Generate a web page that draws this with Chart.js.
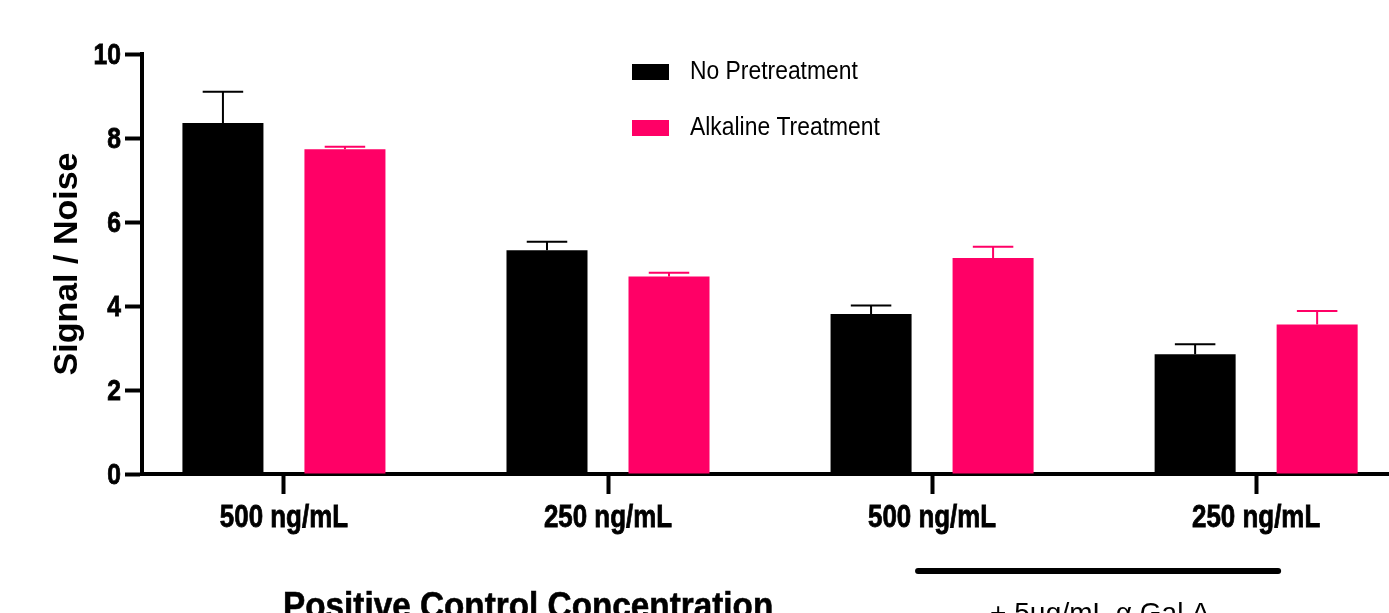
<!DOCTYPE html>
<html>
<head>
<meta charset="utf-8">
<script src="https://cdn.jsdelivr.net/npm/chart.js@4.4.0/dist/chart.umd.min.js"></script>
<style>
  html, body { margin: 0; padding: 0; background: #fff; }
</style>
</head>
<body>
<canvas id="snChart" width="1389" height="613"></canvas>
<script>
// valeurs
const categories = ['500 ng/mL', '250 ng/mL', '500 ng/mL', '250 ng/mL'];
const seriesNames = ['No Pretreatment', 'Alkaline Treatment'];
const noPretreatment = [8.36, 5.33, 3.81, 2.85];
const noPretreatmentErr = [0.74, 0.20, 0.20, 0.24];
const alkaline = [7.73, 4.70, 5.14, 3.56];
const alkalineErr = [0.06, 0.09, 0.27, 0.32];
const yTicks = [0, 2, 4, 6, 8, 10];
const yTitle = 'Signal / Noise';
const xTitle = 'Positive Control Concentration';
const bracketLabel = '+ 5µg/mL α Gal A';

const black = '#000000';
const pink = '#ff0066';
const fam = '"Liberation Sans", Arial, sans-serif';

// texte un peu condensé (style Prism), option contour pour épaissir
function narrowText(ctx, text, x, y, sx, align, heavy) {
    ctx.save();
    ctx.translate(x, y);
    ctx.scale(sx, 1);
    ctx.textAlign = align;
    ctx.fillText(text, 0, 0);
    if (heavy) {
        ctx.strokeStyle = ctx.fillStyle;
        ctx.lineWidth = heavy;
        ctx.strokeText(text, 0, 0);
    }
    ctx.restore();
}

// barres d'erreur (SD vers le haut seulement)
const errorBars = {
    id: 'errorBars',
    afterDatasetsDraw(chart) {
        const ctx = chart.ctx;
        const yScale = chart.scales.y;
        chart.data.datasets.forEach((ds, di) => {
            const meta = chart.getDatasetMeta(di);
            meta.data.forEach((bar, i) => {
                const top = yScale.getPixelForValue(ds.data[i].y + ds.errors[i]);
                ctx.save();
                ctx.strokeStyle = ds.backgroundColor;
                ctx.lineWidth = 2;
                ctx.beginPath();
                ctx.moveTo(bar.x, bar.y);
                ctx.lineTo(bar.x, top);
                ctx.moveTo(bar.x - bar.width / 4, top);
                ctx.lineTo(bar.x + bar.width / 4, top);
                ctx.stroke();
                ctx.restore();
            });
        });
    }
};

// libellés des axes, légende, annotations du bas
const extras = {
    id: 'extras',
    afterDraw(chart) {
        const ctx = chart.ctx;
        const xScale = chart.scales.x;
        const yScale = chart.scales.y;
        ctx.save();
        ctx.fillStyle = '#000';

        // graduations y
        ctx.font = 'bold 29px ' + fam;
        ctx.textBaseline = 'middle';
        yTicks.forEach(v => narrowText(ctx, String(v), 121, yScale.getPixelForValue(v) + 2, 0.85, 'right', 0.8));

        // catégories x
        ctx.font = 'bold 32px ' + fam;
        ctx.textBaseline = 'alphabetic';
        categories.forEach((c, i) => narrowText(ctx, c, xScale.getPixelForValue(i), 527, 0.81, 'center', 0.8));

        // légende
        chart.data.datasets.forEach((ds, di) => {
            const cy = 72 + di * 56;
            ctx.fillStyle = ds.backgroundColor;
            ctx.fillRect(632, cy - 8, 37, 16);
            ctx.fillStyle = '#000';
            ctx.font = '25px ' + fam;
            ctx.textBaseline = 'middle';
            narrowText(ctx, ds.label, 690, cy, 0.915, 'left');
        });

        ctx.textBaseline = 'alphabetic';
        ctx.font = 'bold 36px ' + fam;
        narrowText(ctx, xTitle, 283, 618, 0.925, 'left', 0.6);

        const x1 = xScale.getPixelForValue(2) - 14;
        const x2 = xScale.getPixelForValue(3) + 22;
        ctx.strokeStyle = '#000';
        ctx.lineWidth = 6;
        ctx.lineCap = 'round';
        ctx.beginPath();
        ctx.moveTo(x1, 571);
        ctx.lineTo(x2, 571);
        ctx.stroke();

        ctx.font = '28px ' + fam;
        narrowText(ctx, bracketLabel, 990, 622, 1, 'left');
        ctx.restore();
    }
};

const ctx = document.getElementById('snChart').getContext('2d');
new Chart(ctx, {
    type: 'bar',
    data: {
        datasets: [
            {
                label: seriesNames[0],
                data: noPretreatment.map((v, i) => ({ x: i, y: v })),
                errors: noPretreatmentErr,
                backgroundColor: black
            },
            {
                label: seriesNames[1],
                data: alkaline.map((v, i) => ({ x: i, y: v })),
                errors: alkalineErr,
                backgroundColor: pink
            }
        ]
    },
    options: {
        responsive: false,
        animation: false,
        categoryPercentage: 0.753,
        barPercentage: 0.664,
        layout: { padding: { top: 54, right: 0, left: 0, bottom: 0 } },
        plugins: {
            legend: { display: false },
            tooltip: { enabled: false },
            title: { display: false }
        },
        scales: {
            x: {
                type: 'linear',
                offset: false,
                min: -0.438,
                max: 3.41,
                afterFit: (scale) => { scale.height = 139; },
                afterBuildTicks: (scale) => { scale.ticks = categories.map((c, i) => ({ value: i })); },
                border: { display: true, color: '#000', width: 4 },
                grid: { offset: false, drawOnChartArea: false, drawTicks: true, tickLength: 20, tickWidth: 4, tickColor: '#000' },
                ticks: { display: false }
            },
            y: {
                min: 0,
                max: 10,
                afterFit: (scale) => { scale.width = 142; },
                afterBuildTicks: (scale) => { scale.ticks = yTicks.map(v => ({ value: v })); },
                border: { display: true, color: '#000', width: 4 },
                grid: { drawOnChartArea: false, drawTicks: true, tickLength: 17, tickWidth: 4, tickColor: '#000' },
                ticks: { display: false },
                title: {
                    display: true,
                    text: yTitle,
                    color: '#000',
                    padding: { top: 51, bottom: 0 },
                    font: { family: fam, weight: 'bold', size: 34, lineHeight: 1 }
                }
            }
        }
    },
    plugins: [errorBars, extras]
});
</script>
</body>
</html>
